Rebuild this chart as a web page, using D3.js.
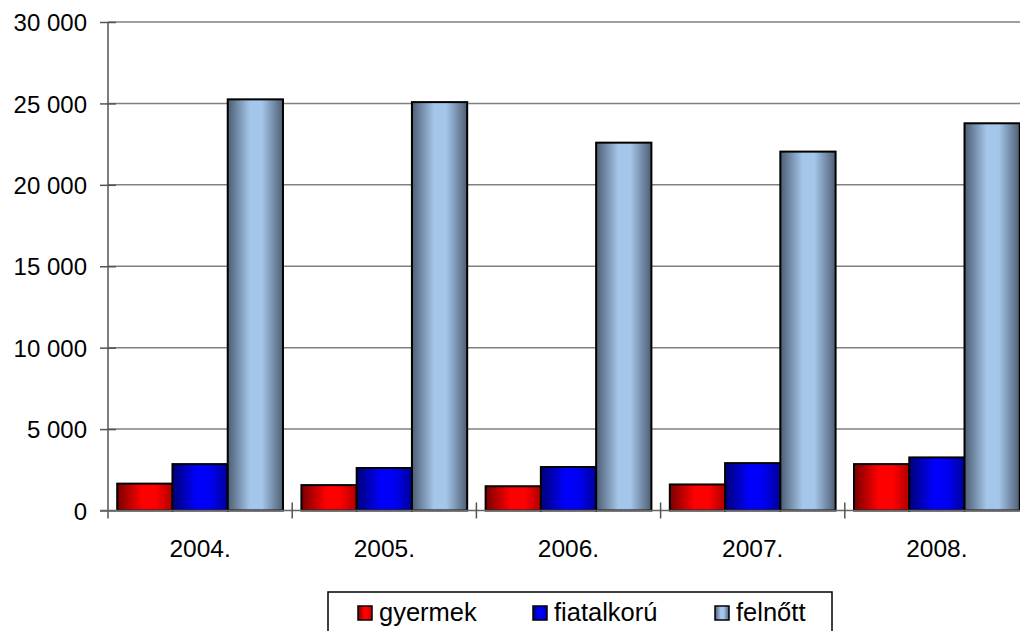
<!DOCTYPE html>
<html>
<head>
<meta charset="utf-8">
<script src="https://cdn.jsdelivr.net/npm/d3@7"></script>
<style>
  body { margin: 0; background: #fff; }
  text { font-family: "Liberation Sans", Arial, sans-serif; fill: #000; }
</style>
</head>
<body>
<div id="chart"></div>
<script>
// data
const years = ['2004.', '2005.', '2006.', '2007.', '2008.'];
const seriesNames = ['gyermek', 'fiatalkorú', 'felnőtt'];
const gyermek = [1650, 1560, 1490, 1600, 2850];
const fiatalkoru = [2850, 2610, 2670, 2910, 3260];
const felnott = [25250, 25080, 22590, 22040, 23780];
const yTicks = [0, 5000, 10000, 15000, 20000, 25000, 30000];

const width = 1020, height = 631;
const marginLeft = 108, marginTop = 22;
const plotW = 921, plotH = 488.5;

const svg = d3.select('#chart').append('svg')
  .attr('width', width)
  .attr('height', height);

// gradients: dark edges, bright middle
const defs = svg.append('defs');
const grads = [
  { id: 'g0', stops: [['0%', '#7a0000'], ['45%', '#ff0000'], ['70%', '#ff0000'], ['100%', '#b00000']] },
  { id: 'g1', stops: [['0%', '#000078'], ['45%', '#0000ff'], ['70%', '#0000f0'], ['100%', '#00009a']] },
  { id: 'g2', stops: [['0%', '#4c5d72'], ['40%', '#a4c6ea'], ['62%', '#a4c6ea'], ['100%', '#4e5e73']] }
];
grads.forEach(function(gr) {
  const lg = defs.append('linearGradient').attr('id', gr.id)
    .attr('x1', '0%').attr('x2', '100%').attr('y1', '0%').attr('y2', '0%');
  gr.stops.forEach(function(s) {
    lg.append('stop').attr('offset', s[0]).attr('stop-color', s[1]);
  });
});

const x0 = d3.scaleBand().domain(years).range([0, plotW]).paddingInner(0.1).paddingOuter(0.05);
const x1 = d3.scaleBand().domain(seriesNames).range([0, x0.bandwidth()]);
const xCat = d3.scaleBand().domain(years).range([0, plotW]);
const y = d3.scaleLinear().domain([0, 30000]).range([plotH, 0]);

const g = svg.append('g').attr('transform', `translate(${marginLeft},${marginTop})`);

// gridlines
g.selectAll('line.grid')
  .data(yTicks.slice(1))
  .enter()
  .append('line')
  .attr('class', 'grid')
  .attr('x1', 0)
  .attr('x2', plotW)
  .attr('y1', d => y(d))
  .attr('y2', d => y(d))
  .style('stroke', '#808080')
  .style('stroke-width', 1.5);

// bars
const data = [gyermek, fiatalkoru, felnott];
const groups = g.selectAll('g.year')
  .data(years)
  .enter()
  .append('g')
  .attr('class', 'year')
  .attr('transform', d => `translate(${x0(d)},0)`);

groups.selectAll('rect')
  .data(function(d, i) {
    return seriesNames.map(function(s, j) { return { s: s, j: j, v: data[j][i] }; });
  })
  .enter()
  .append('rect')
  .attr('x', d => x1(d.s))
  .attr('width', x1.bandwidth())
  .attr('y', d => y(d.v))
  .attr('height', d => plotH - y(d.v))
  .style('fill', d => `url(#g${d.j})`)
  .style('stroke', '#000')
  .style('stroke-width', 2);

// y axis
const yAxis = g.append('g').call(
  d3.axisLeft(y).tickValues(yTicks).tickSizeInner(8).tickSizeOuter(0).tickPadding(14)
    .tickFormat(d => d3.format(',')(d).replace(',', ' '))
);
yAxis.select('.domain').remove();
yAxis.selectAll('.tick line').attr('x2', 8).attr('x1', -8).style('stroke', '#555').style('stroke-width', 1.5);
yAxis.selectAll('.tick text').style('font-size', '24px').attr('x', -21).attr('dy', '0.36em');
g.append('line')
  .attr('x1', 0).attr('x2', 0).attr('y1', 0).attr('y2', plotH + 8)
  .style('stroke', '#555').style('stroke-width', 1.5);

// x axis
g.append('line')
  .attr('x1', -8).attr('x2', plotW).attr('y1', plotH).attr('y2', plotH)
  .style('stroke', '#666').style('stroke-width', 1.5);
g.selectAll('line.xtick')
  .data(years.slice(1))
  .enter()
  .append('line')
  .attr('class', 'xtick')
  .attr('x1', d => xCat(d)).attr('x2', d => xCat(d))
  .attr('y1', plotH - 8).attr('y2', plotH + 8)
  .style('stroke', '#555').style('stroke-width', 1.5);
g.selectAll('text.xlab')
  .data(years)
  .enter()
  .append('text')
  .attr('class', 'xlab')
  .attr('x', d => xCat(d) + xCat.bandwidth() / 2)
  .attr('y', plotH + 46)
  .attr('text-anchor', 'middle')
  .style('font-size', '24.5px')
  .text(d => d);

// legend
const legend = svg.append('g').attr('transform', 'translate(328,592)');
legend.append('rect')
  .attr('width', 504).attr('height', 50)
  .style('fill', '#fff').style('stroke', '#000').style('stroke-width', 1.5);
const legendX = d3.scaleOrdinal().domain(seriesNames).range([30, 205, 387]);
const items = legend.selectAll('g.item')
  .data(seriesNames)
  .enter()
  .append('g')
  .attr('class', 'item')
  .attr('transform', d => `translate(${legendX(d)},0)`);
items.append('rect')
  .attr('y', 14).attr('width', 14).attr('height', 14)
  .style('fill', (d, i) => `url(#g${i})`)
  .style('stroke', '#000').style('stroke-width', 1.5);
items.append('text')
  .attr('x', 21).attr('y', 29)
  .style('font-size', '25.5px')
  .text(d => d);
</script>
</body>
</html>
